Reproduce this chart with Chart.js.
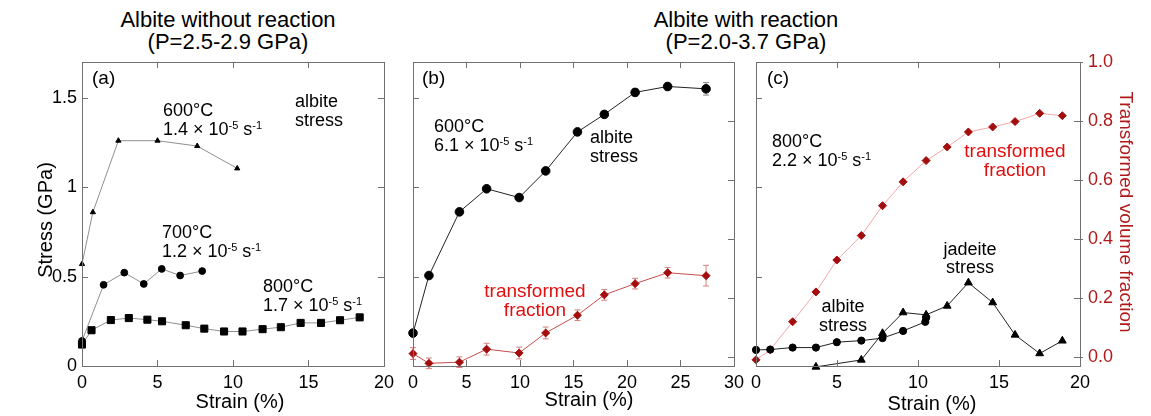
<!DOCTYPE html>
<html>
<head>
<meta charset="utf-8">
<title>Albite stress-strain</title>
<script src="https://cdn.jsdelivr.net/npm/chart.js@4.4.1/dist/chart.umd.min.js"></script>
<style>
  body { margin: 0; background: #fff; font-family: "Liberation Sans", Arial, sans-serif; }
  #page { position: relative; width: 1151px; height: 416px; overflow: hidden; }
  .panel { position: absolute; top: 0; height: 416px; }
  .title { position: absolute; top: 9px; width: 320px; text-align: center; font-size: 22px; line-height: 22px; color: #000; }
</style>
</head>
<body>
<div id="page">
  <div class="title" style="left:68px">Albite without reaction<br>(P=2.5-2.9 GPa)</div>
  <div class="title" style="left:586px">Albite with reaction<br>(P=2.0-3.7 GPa)</div>
  <div class="panel" style="left:0;width:400px"><canvas id="chartA"></canvas></div>
  <div class="panel" style="left:395px;width:355px"><canvas id="chartB"></canvas></div>
  <div class="panel" style="left:745px;width:406px"><canvas id="chartC"></canvas></div>
</div>
<script>
// (a) albite without reaction, stress (GPa) vs strain (%)
const strain600a = [0, 0.72, 2.41, 5.0, 7.63, 10.28];
const stress600a = [0.57, 0.86, 1.26, 1.26, 1.23, 1.105];
const strain700a = [0, 1.43, 2.8, 4.09, 5.28, 6.5, 7.96];
const stress700a = [0.14, 0.454, 0.522, 0.459, 0.543, 0.506, 0.531];
const strain800a = [0, 0.63, 1.91, 3.1, 4.33, 5.3, 6.87, 8.1, 9.41, 10.63, 11.96, 13.17, 14.48, 15.83, 17.09, 18.39];
const stress800a = [0.12, 0.2, 0.257, 0.268, 0.259, 0.25, 0.228, 0.209, 0.193, 0.193, 0.206, 0.217, 0.241, 0.241, 0.256, 0.272];

// (b) 600°C with reaction
const strainB = [0, 1.49, 4.34, 6.88, 9.92, 12.4, 15.37, 17.88, 20.76, 23.8, 27.39];
const stressB = [0.184, 0.506, 0.862, 0.991, 0.942, 1.091, 1.309, 1.407, 1.53, 1.563, 1.55];
const stressErrB = [0, 0, 0, 0, 0, 0, 0, 0, 0.02, 0.02, 0.035];
const fractionB = [0.012, -0.021, -0.017, 0.027, 0.014, 0.082, 0.142, 0.211, 0.249, 0.286, 0.276];
const fractionErrB = [0.02, 0.018, 0.018, 0.02, 0.02, 0.02, 0.018, 0.018, 0.018, 0.018, 0.035];

// (c) 800°C with reaction
const strainC = [0, 0.88, 2.26, 3.7, 4.99, 6.5, 7.81, 9.08, 10.5, 11.8, 13.11, 14.61, 15.99, 17.51, 18.91];
const fractionC = [-0.009, 0.025, 0.12, 0.221, 0.329, 0.412, 0.513, 0.594, 0.666, 0.712, 0.763, 0.78, 0.798, 0.826, 0.818];
const albiteStrainC = [0, 0.88, 2.26, 3.7, 4.99, 6.5, 7.81, 9.08, 10.45, 10.5];
const albiteStressC = [0.09, 0.092, 0.103, 0.103, 0.133, 0.142, 0.156, 0.196, 0.247, 0.27];
const jadeiteStrainC = [3.7, 6.5, 7.81, 9.08, 10.5, 11.8, 13.11, 14.61, 15.99, 17.51, 18.91];
const jadeiteStressC = [-0.005, 0.034, 0.183, 0.299, 0.286, 0.336, 0.466, 0.355, 0.174, 0.07, 0.141];

const strainTicksA = 20;
const strainTicksB = 30;

const FAMILY = '"Liberation Sans", Arial, sans-serif';
const DARK_RED = '#a30d0d';
const TEXT_RED = '#e01010';
const AXIS_RED = '#b01a1a';

Chart.defaults.font.family = FAMILY;
Chart.defaults.font.size = 18;
Chart.defaults.color = '#000';
Chart.defaults.animation = false;

const toXY = (xs, ys) => xs.map((x, i) => ({ x: x, y: ys[i] }));

// rate text like "1.4 × 10^-5 s^-1"
const rate = (v) => [[v + ' × 10', false], ['-5', true], [' s', false], ['-1', true]];

function drawLabel(ctx, item, dx) {
  const size = item.size || 18;
  ctx.save();
  ctx.fillStyle = item.color || '#000';
  ctx.textBaseline = 'alphabetic';
  ctx.textAlign = 'left';
  ctx.translate(item.x - dx, item.y);
  if (item.rotate) ctx.rotate(item.rotate);
  const parts = Array.isArray(item.text) ? item.text : [[item.text, false]];
  let total = 0;
  parts.forEach(p => {
    ctx.font = (p[1] ? 11 : size) + 'px ' + FAMILY;
    total += ctx.measureText(p[0]).width;
  });
  let x = item.align === 'center' ? -total / 2 : 0;
  parts.forEach(p => {
    ctx.font = (p[1] ? 11 : size) + 'px ' + FAMILY;
    ctx.fillText(p[0], x, p[1] ? -6.5 : 0);
    x += ctx.measureText(p[0]).width;
  });
  ctx.restore();
}

// frame, inward ticks, error bars and in-plot labels
const framePlugin = {
  id: 'frame',
  beforeDatasetsDraw(chart) {
    const ctx = chart.ctx;
    chart.data.datasets.forEach((ds, i) => {
      if (!ds.errorBars) return;
      const meta = chart.getDatasetMeta(i);
      const ys = chart.scales[ds.yAxisID || 'y'];
      ctx.save();
      ctx.strokeStyle = ds.errorColor;
      ctx.lineWidth = 1;
      ctx.beginPath();
      meta.data.forEach((pt, j) => {
        const e = ds.errorBars[j];
        if (!e) return;
        const v = ds.data[j].y;
        const top = ys.getPixelForValue(v + e);
        const bot = ys.getPixelForValue(v - e);
        ctx.moveTo(pt.x, top); ctx.lineTo(pt.x, bot);
        ctx.moveTo(pt.x - 3, top); ctx.lineTo(pt.x + 3, top);
        ctx.moveTo(pt.x - 3, bot); ctx.lineTo(pt.x + 3, bot);
      });
      ctx.stroke();
      ctx.restore();
    });
  },
  afterDraw(chart, args, opts) {
    const { ctx, chartArea: a } = chart;
    ctx.save();
    ctx.strokeStyle = '#707070';
    ctx.lineWidth = 1;
    ctx.strokeRect(Math.round(a.left) + 0.5, Math.round(a.top) + 0.5,
      Math.round(a.right - a.left), Math.round(a.bottom - a.top));
    ctx.beginPath();
    const xs = chart.scales.x;
    xs.ticks.forEach(t => {
      const px = Math.round(xs.getPixelForValue(t.value)) + 0.5;
      ctx.moveTo(px, a.bottom); ctx.lineTo(px, a.bottom - 6);
      ctx.moveTo(px, a.top); ctx.lineTo(px, a.top + 6);
    });
    const yl = chart.scales.y;
    yl.ticks.forEach(t => {
      const py = Math.round(yl.getPixelForValue(t.value)) + 0.5;
      ctx.moveTo(a.left, py); ctx.lineTo(a.left + 6, py);
    });
    const yr = chart.scales.y2 || yl;
    yr.ticks.forEach(t => {
      const py = Math.round(yr.getPixelForValue(t.value)) + 0.5;
      ctx.moveTo(a.right - 6, py); ctx.lineTo(a.right + (opts.outRight || 0), py);
    });
    ctx.stroke();
    ctx.restore();
    (opts.labels || []).forEach(item => drawLabel(ctx, item, opts.dx));
  }
};

function strainAxis(max) {
  return {
    type: 'linear', min: 0, max: max,
    grid: { display: false, drawTicks: false },
    border: { display: false },
    ticks: { stepSize: 5, padding: 6, maxRotation: 0, autoSkip: false },
    afterFit: (s) => { s.height = 50; }
  };
}

function stressAxis(width, showLabels) {
  return {
    type: 'linear', position: 'left', min: 0, max: 1.7,
    grid: { display: false, drawTicks: false },
    border: { display: false },
    ticks: { display: showLabels, stepSize: 0.5, includeBounds: false, padding: 5,
      callback: (v) => String(Math.round(v * 10) / 10) },
    afterFit: (s) => { s.width = width; }
  };
}

function fractionAxis(width, showLabels) {
  return {
    type: 'linear', position: 'right', min: -0.03, max: 1.0,
    grid: { display: false, drawTicks: false },
    border: { display: false },
    ticks: {
      display: showLabels, stepSize: 0.2, includeBounds: false, padding: 8,
      color: AXIS_RED, callback: (v) => v.toFixed(1)
    },
    afterFit: (s) => { s.width = width; }
  };
}

function baseOptions(padding, scales, frame) {
  return {
    responsive: true,
    maintainAspectRatio: false,
    events: [],
    layout: { padding: padding },
    scales: scales,
    plugins: { legend: { display: false }, tooltip: { enabled: false }, frame: frame }
  };
}

function series(xs, ys, opts) {
  return Object.assign({
    data: toXY(xs, ys),
    borderWidth: 1,
    pointBorderWidth: 1,
    clip: 8,
    tension: 0
  }, opts);
}

// panel (a)
new Chart(document.getElementById('chartA'), {
  type: 'line',
  data: {
    datasets: [
      series(strain600a, stress600a, { borderColor: '#8f8f8f', pointStyle: 'triangle', pointRadius: 3,
        pointBackgroundColor: '#000', pointBorderColor: '#000' }),
      series(strain700a, stress700a, { borderColor: '#8f8f8f', pointStyle: 'circle', pointRadius: 3.4,
        pointBackgroundColor: '#000', pointBorderColor: '#000' }),
      series(strain800a, stress800a, { borderColor: '#8f8f8f', pointStyle: 'rect', pointRadius: 5,
        pointBackgroundColor: '#000', pointBorderColor: '#000' })
    ]
  },
  options: baseOptions({ top: 62, right: 11, left: 0, bottom: 0 },
    { x: strainAxis(strainTicksA), y: stressAxis(82, true) },
    {
      dx: 0,
      labels: [
        { x: 92, y: 84, text: '(a)', size: 19 },
        { x: 163, y: 116, text: '600°C' },
        { x: 163, y: 135, text: rate('1.4') },
        { x: 295, y: 107, text: 'albite' },
        { x: 295, y: 126, text: 'stress' },
        { x: 162, y: 238, text: '700°C' },
        { x: 162, y: 257, text: rate('1.2') },
        { x: 263, y: 292, text: '800°C' },
        { x: 263, y: 311, text: rate('1.7') },
        { x: 52, y: 220, text: 'Stress (GPa)', size: 20, align: 'center', rotate: -Math.PI / 2 },
        { x: 240, y: 408, text: 'Strain (%)', size: 20, align: 'center' }
      ]
    }),
  plugins: [framePlugin]
});

// panel (b)
new Chart(document.getElementById('chartB'), {
  type: 'line',
  data: {
    datasets: [
      series(strainB, stressB, { yAxisID: 'y', borderColor: '#222', pointStyle: 'circle', pointRadius: 4.3,
        pointBackgroundColor: '#000', pointBorderColor: '#000', errorBars: stressErrB, errorColor: '#888' }),
      series(strainB, fractionB, { yAxisID: 'y2', borderColor: '#cc4b4b', pointStyle: 'rectRot', pointRadius: 4,
        pointBackgroundColor: DARK_RED, pointBorderColor: DARK_RED, errorBars: fractionErrB, errorColor: '#d68080' })
    ]
  },
  options: baseOptions({ top: 62, right: 0, left: 0, bottom: 0 },
    { x: strainAxis(strainTicksB), y: stressAxis(18, false), y2: fractionAxis(14, false) },
    {
      dx: 395,
      labels: [
        { x: 422, y: 84, text: '(b)', size: 19 },
        { x: 434, y: 132, text: '600°C' },
        { x: 434, y: 151, text: rate('6.1') },
        { x: 590, y: 143, text: 'albite' },
        { x: 590, y: 162, text: 'stress' },
        { x: 535, y: 297, text: 'transformed', color: TEXT_RED, align: 'center', size: 19 },
        { x: 535, y: 316, text: 'fraction', color: TEXT_RED, align: 'center', size: 19 },
        { x: 589, y: 406, text: 'Strain (%)', size: 20, align: 'center' }
      ]
    }),
  plugins: [framePlugin]
});

// panel (c)
new Chart(document.getElementById('chartC'), {
  type: 'line',
  data: {
    datasets: [
      series(albiteStrainC, albiteStressC, { yAxisID: 'y', borderColor: '#222', pointStyle: 'circle', pointRadius: 3.6,
        pointBackgroundColor: '#000', pointBorderColor: '#000' }),
      series(jadeiteStrainC, jadeiteStressC, { yAxisID: 'y', borderColor: '#222', pointStyle: 'triangle', pointRadius: 4.5,
        pointBackgroundColor: '#000', pointBorderColor: '#000' }),
      series(strainC, fractionC, { yAxisID: 'y2', borderColor: '#f4a8a8', pointStyle: 'rectRot', pointRadius: 4,
        pointBackgroundColor: DARK_RED, pointBorderColor: DARK_RED })
    ]
  },
  options: baseOptions({ top: 62, right: 0, left: 0, bottom: 0 },
    { x: strainAxis(strainTicksA), y: stressAxis(11, false), y2: fractionAxis(71, true) },
    {
      dx: 745,
      outRight: 3,
      labels: [
        { x: 767, y: 84, text: '(c)', size: 19 },
        { x: 772, y: 147, text: '800°C' },
        { x: 772, y: 166, text: rate('2.2') },
        { x: 1015, y: 157, text: 'transformed', color: TEXT_RED, align: 'center', size: 19 },
        { x: 1015, y: 176, text: 'fraction', color: TEXT_RED, align: 'center', size: 19 },
        { x: 970, y: 255, text: 'jadeite', align: 'center' },
        { x: 970, y: 273, text: 'stress', align: 'center' },
        { x: 843, y: 312, text: 'albite', align: 'center' },
        { x: 843, y: 331, text: 'stress', align: 'center' },
        { x: 932, y: 410, text: 'Strain (%)', size: 20, align: 'center' },
        { x: 1120, y: 212, text: 'Transformed volume fraction', size: 19, color: AXIS_RED,
          align: 'center', rotate: Math.PI / 2 }
      ]
    }),
  plugins: [framePlugin]
});
</script>
</body>
</html>
